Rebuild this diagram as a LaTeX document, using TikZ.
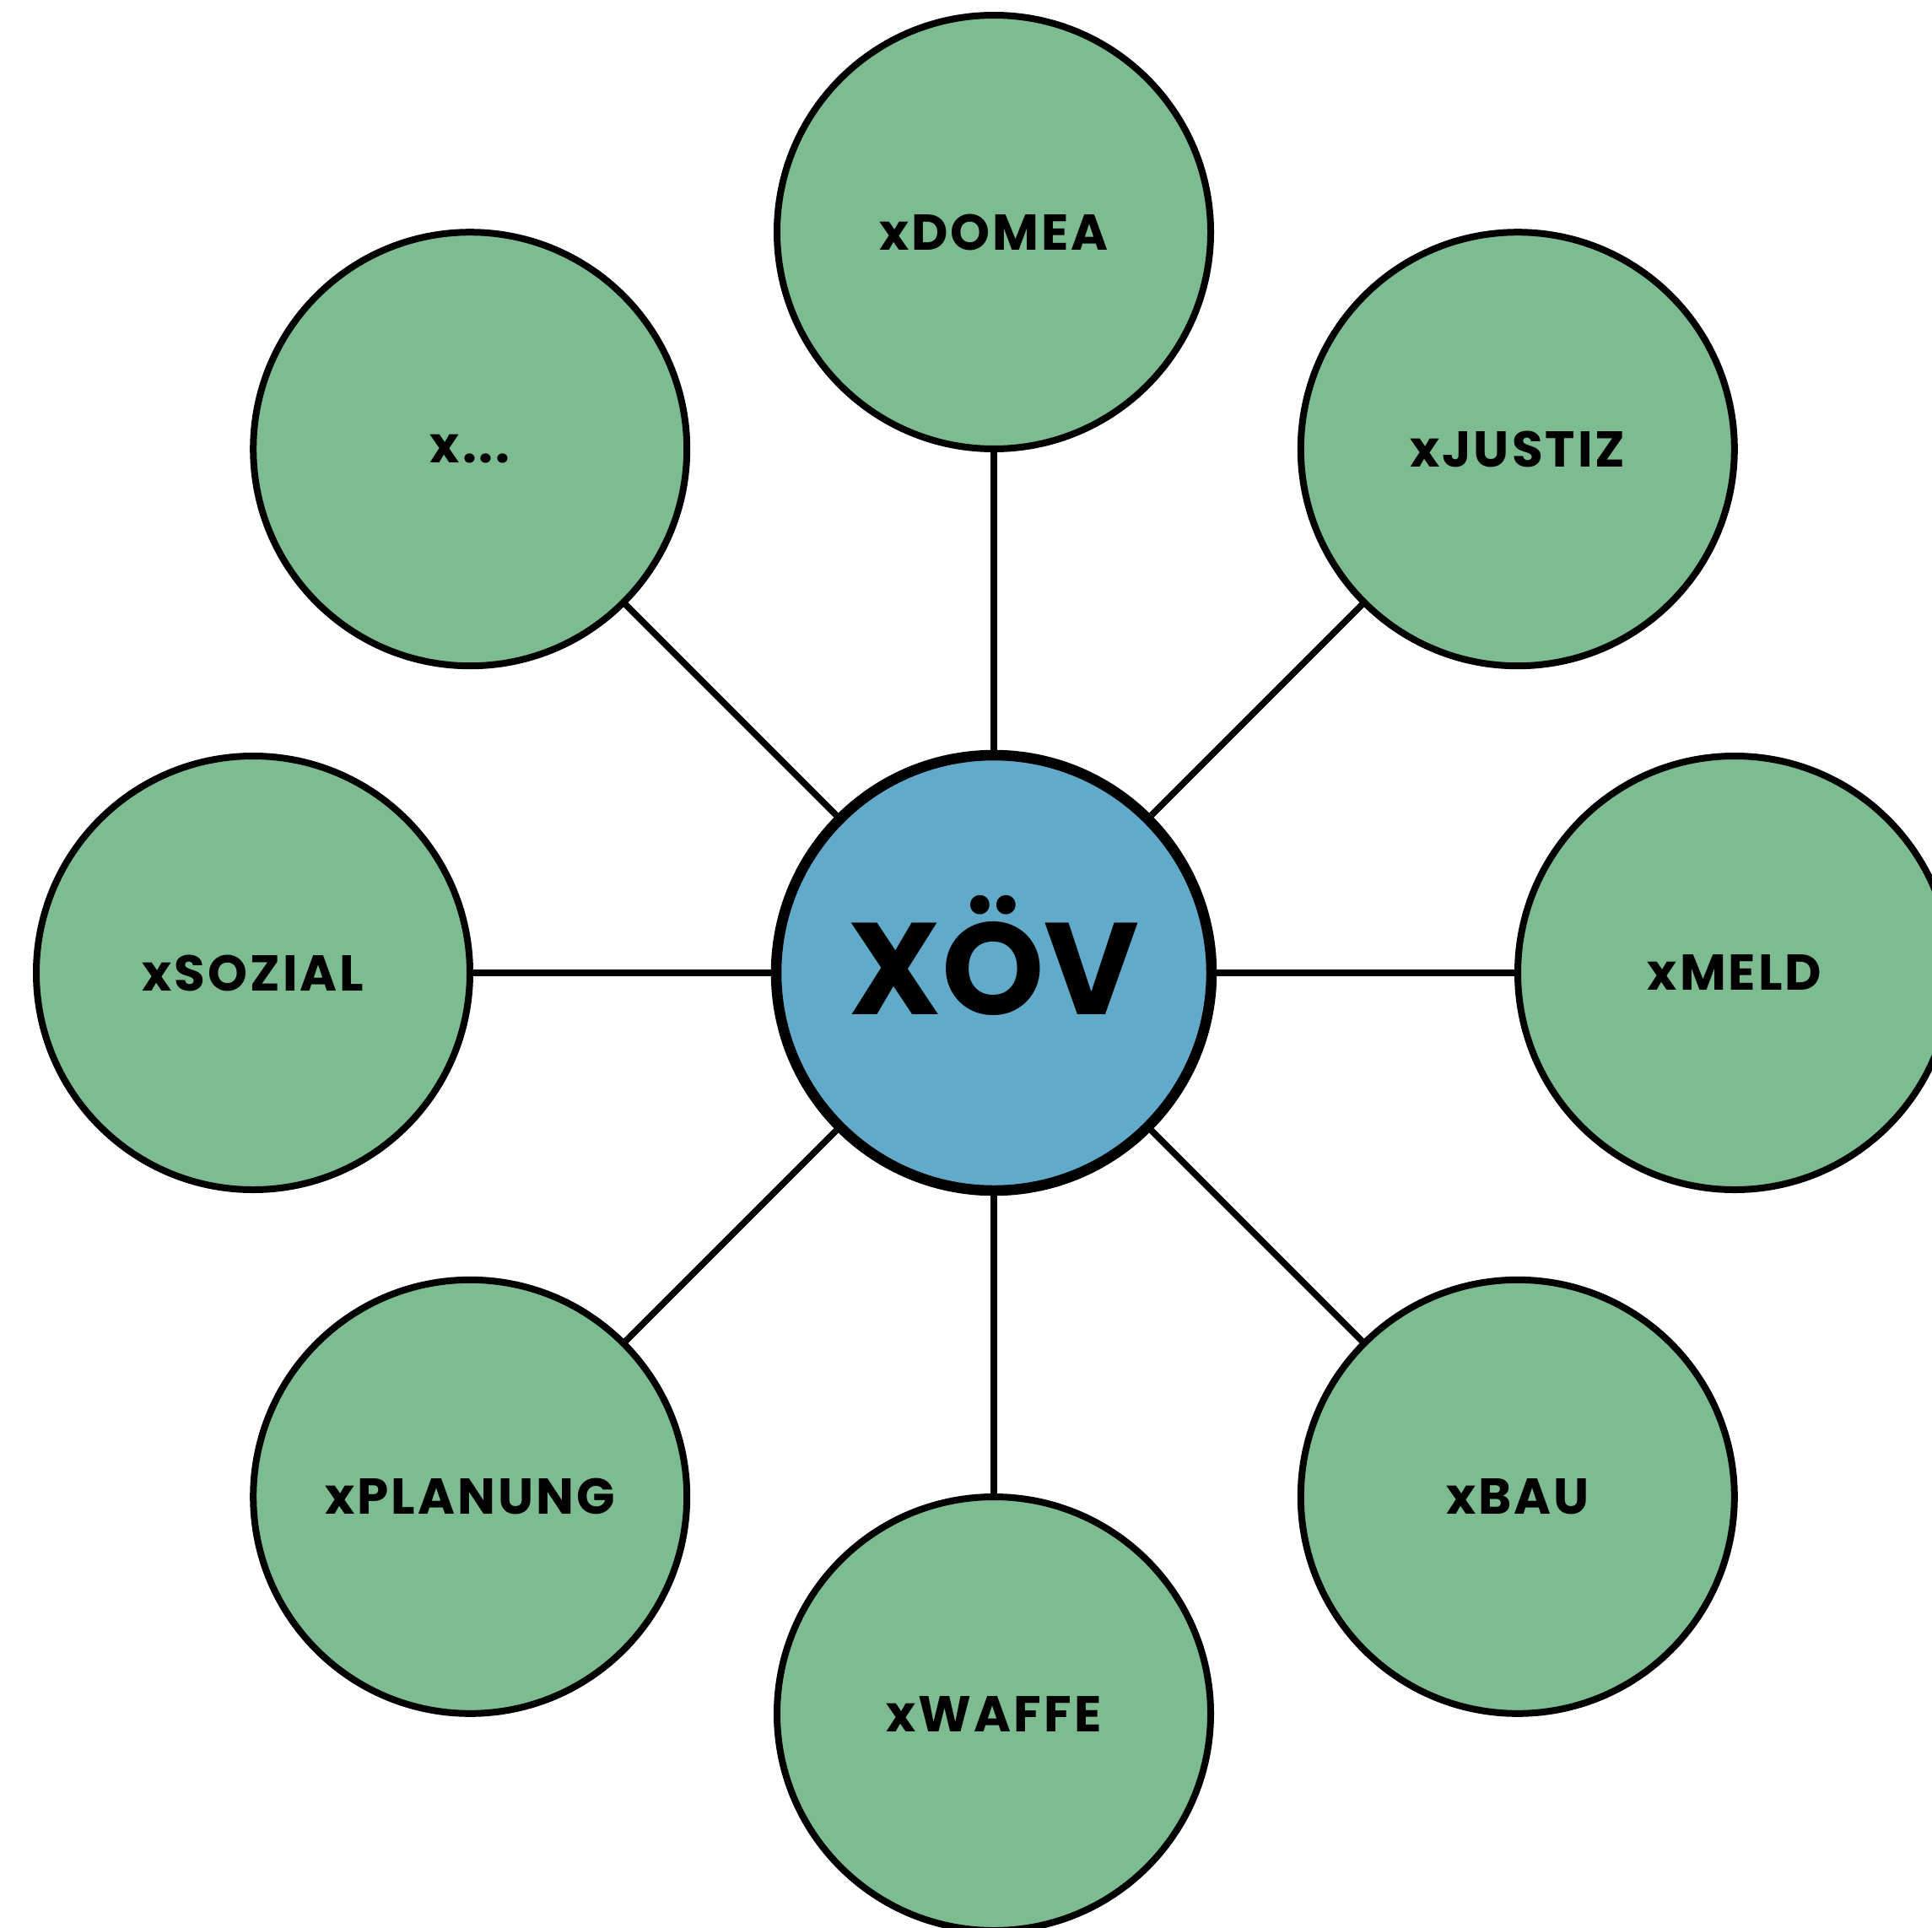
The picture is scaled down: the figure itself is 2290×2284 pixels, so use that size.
\documentclass[tikz,border=0pt]{standalone}
\usepackage{fontspec}
\newfontfamily\popb[LetterSpace=5]{Poppins}
\newfontfamily\popc{Poppins}
\definecolor{satgreen}{HTML}{7DBC91}
\definecolor{hubblue}{HTML}{62AAC9}
\tikzset{
  sat/.style={circle, draw=black, line width=0.8mm, fill=satgreen, minimum size=51.4mm, inner sep=0pt,
    font=\popb\bfseries\fontsize{17}{20}\selectfont},
  hub/.style={circle, draw=black, line width=1.25mm, fill=hubblue, minimum size=51.6mm, inner sep=0pt,
    text height=9.8mm, text depth=0pt,
    font=\popc\bfseries\fontsize{44}{50}\selectfont},
  link/.style={draw=black, line width=0.75mm}
}
\begin{document}
\begin{tikzpicture}[x=0.1mm, y=-0.1mm]
\useasboundingbox (0,0) rectangle (2290,2284);
\clip (0,0) rectangle (2290,2284);
\node[hub] (c) at (1178,1153) {XÖV};
\node[sat] (dom) at (1178,275) {xDOMEA};
\node[sat] (jus) at (1798.8,532.2) {xJUSTIZ};
\node[sat] (meld) at (2056,1153) {xMELD};
\node[sat] (bau) at (1798.8,1773.8) {xBAU};
\node[sat] (waf) at (1178,2031) {xWAFFE};
\node[sat] (plan) at (557.2,1773.8) {xPLANUNG};
\node[sat] (soz) at (300,1153) {xSOZIAL};
\node[sat] (dots) at (557.2,532.2) {x...};
\foreach \s in {dom,jus,meld,bau,waf,plan,soz,dots}
  \draw[link] (c) -- (\s);
\end{tikzpicture}
\end{document}
